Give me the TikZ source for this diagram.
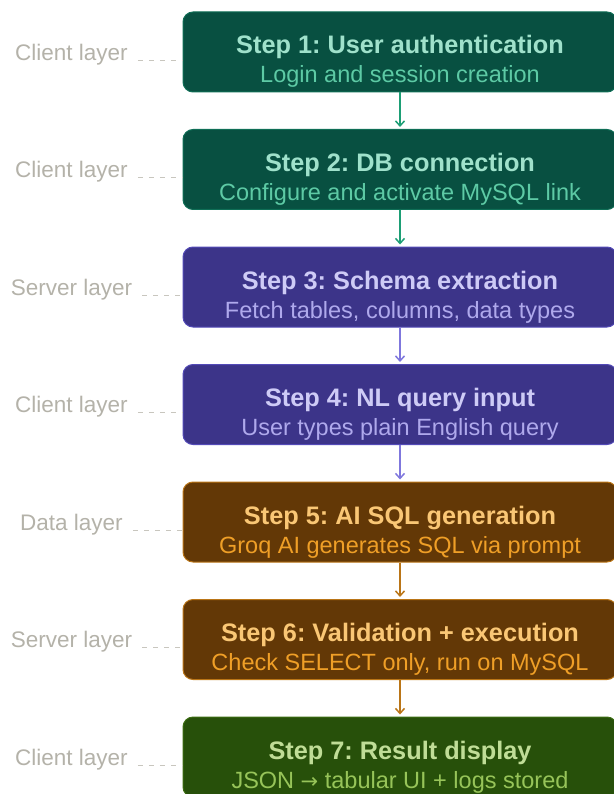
\documentclass[tikz,border=0pt]{standalone}
\usepackage{fontspec}
\setmainfont{Liberation Sans}
\newfontfamily\arrowfont{DejaVu Sans}
\usepackage{xcolor}
\usetikzlibrary{arrows.meta}
\frenchspacing
\definecolor{tealfill}{HTML}{085041}
\definecolor{tealline}{HTML}{0F6E56}
\definecolor{tealtitle}{HTML}{9FE1CB}
\definecolor{tealsub}{HTML}{5DCAA5}
\definecolor{tealarrow}{HTML}{1D9E75}
\definecolor{purplefill}{HTML}{3C3489}
\definecolor{purpleline}{HTML}{534AB7}
\definecolor{purpletitle}{HTML}{CECBF6}
\definecolor{purplesub}{HTML}{AFA9EC}
\definecolor{purplearrow}{HTML}{7F77DD}
\definecolor{amberfill}{HTML}{633806}
\definecolor{amberline}{HTML}{BA7517}
\definecolor{ambertitle}{HTML}{FAC775}
\definecolor{ambersub}{HTML}{EF9F27}
\definecolor{amberarrow}{HTML}{BA7517}
\definecolor{greenfill}{HTML}{27500A}
\definecolor{greenline}{HTML}{3B6D11}
\definecolor{greentitle}{HTML}{C0DD97}
\definecolor{greensub}{HTML}{97C459}
\definecolor{layergray}{HTML}{B4B2A9}
\definecolor{layerdash}{HTML}{C8C6BE}
\newcommand{\subline}{\mdseries\fontsize{23.5}{29}\selectfont}
\tikzstyle{stepbox} = [rectangle, rounded corners = 10pt, minimum width = 434pt, minimum height = 80pt, inner sep = 0pt, text height = 71pt, text depth = 9pt, align = center, line width = 1pt, font = \bfseries\fontsize{25.3}{29}\selectfont]
\tikzstyle{tealstep} = [stepbox, fill = tealfill, draw = tealline, text = tealtitle]
\tikzstyle{purplestep} = [stepbox, fill = purplefill, draw = purpleline, text = purpletitle]
\tikzstyle{amberstep} = [stepbox, fill = amberfill, draw = amberline, text = ambertitle]
\tikzstyle{greenstep} = [stepbox, fill = greenfill, draw = greenline, text = greentitle]
\tikzstyle{layer} = [inner sep = 0pt, text = layergray, font = \fontsize{22.5}{25}\selectfont]
\tikzstyle{link} = [draw = layerdash, line width = 1pt, dash pattern = on 5pt off 6pt, shorten < = 10pt]
\tikzstyle{flow} = [->, line width = 1.5pt, shorten > = 2pt]

\begin{document}
\begin{tikzpicture}[node distance = 117.5pt, > = {Straight Barb[length = 5pt, width = 9pt]}]
	\useasboundingbox (0, 0) rectangle (613pt, -794pt);
	\node (s1)[tealstep] at (400pt, -52pt){Step 1: User authentication\\{\subline\color{tealsub}Login and session creation}};
	\node (s2)[tealstep, below of = s1]{Step 2: DB connection\\{\subline\color{tealsub}Configure and activate MySQL link}};
	\node (s3)[purplestep, below of = s2]{Step 3: Schema extraction\\{\subline\color{purplesub}Fetch tables, columns, data types}};
	\node (s4)[purplestep, below of = s3]{Step 4: NL query input\\{\subline\color{purplesub}User types plain English query}};
	\node (s5)[amberstep, below of = s4]{Step 5: AI SQL generation\\{\subline\color{ambersub}Groq AI generates SQL via prompt}};
	\node (s6)[amberstep, below of = s5]{Step 6: Validation + execution\\{\subline\color{ambersub}Check SELECT only, run on MySQL}};
	\node (s7)[greenstep, below of = s6]{Step 7: Result display\\{\subline\color{greensub}JSON {\arrowfont\fontsize{21}{29}\selectfont →} tabular UI + logs stored}};
	
	\node (l1)[layer, left of = s1, xshift = -211pt, yshift = -2.5pt]{Client layer};
	\node (l2)[layer, left of = s2, xshift = -211pt, yshift = -2.5pt]{Client layer};
	\node (l3)[layer, left of = s3, xshift = -211pt, yshift = -2.5pt]{Server layer};
	\node (l4)[layer, left of = s4, xshift = -211pt, yshift = -2.5pt]{Client layer};
	\node (l5)[layer, left of = s5, xshift = -211pt, yshift = -2.5pt]{Data layer};
	\node (l6)[layer, left of = s6, xshift = -211pt, yshift = -2.5pt]{Server layer};
	\node (l7)[layer, left of = s7, xshift = -211pt, yshift = -2.5pt]{Client layer};
	
	\draw [flow, tealarrow] (s1) -- (s2);
	\draw [flow, tealarrow] (s2) -- (s3);
	\draw [flow, purplearrow] (s3) -- (s4);
	\draw [flow, purplearrow] (s4) -- (s5);
	\draw [flow, amberarrow] (s5) -- (s6);
	\draw [flow, amberarrow] (s6) -- (s7);
	
	\draw [link] (l1.base east) -- (l1.base east -| s1.west);
	\draw [link] (l2.base east) -- (l2.base east -| s2.west);
	\draw [link] (l3.base east) -- (l3.base east -| s3.west);
	\draw [link] (l4.base east) -- (l4.base east -| s4.west);
	\draw [link] (l5.base east) -- (l5.base east -| s5.west);
	\draw [link] (l6.base east) -- (l6.base east -| s6.west);
	\draw [link] (l7.base east) -- (l7.base east -| s7.west);
\end{tikzpicture}
\end{document}
